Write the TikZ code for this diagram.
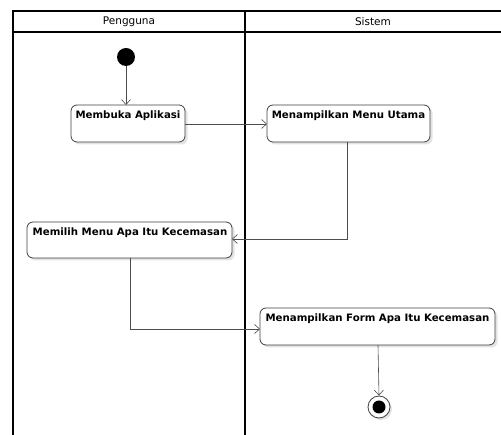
\documentclass[tikz,border=0pt]{standalone}
\usepackage{fontspec}
\setmainfont{DejaVu Sans}
\usetikzlibrary{arrows.meta,shadows}
\begin{document}
\begin{tikzpicture}[x=1pt,y=-1pt,
  lane/.style={draw=black,line width=1.1pt},
  act/.style={draw=black!75,line width=0.8pt,rounded corners=6pt,fill=white,
    drop shadow={shadow xshift=2.5pt,shadow yshift=-2.5pt,fill=black!18,opacity=0.6}},
  lbl/.style={anchor=north,font=\bfseries\fontsize{10.2}{11}\selectfont,inner sep=0pt},
  flow/.style={draw=black!70,line width=0.6pt,-{Straight Barb[length=5pt,width=9pt,line width=0.6pt]}},
  hdr/.style={font=\fontsize{10.5}{11}\selectfont,inner sep=0pt}]
\useasboundingbox (0,0) rectangle (501,435);
% swimlanes
\draw[lane] (13,440) -- (13,11) -- (505,11);
\draw[lane] (13,32) -- (505,32);
\draw[lane] (245,11) -- (245,440);
\node[hdr] (h1) at (129,21.5) {Pengguna};
\node[hdr] (h2) at (373,21.5) {Sistem};
% start
\node[circle,fill=black,minimum size=18pt,inner sep=0pt] (start) at (126,57) {};
% activities
\path[act] (71,105) rectangle (185,142);
\node[lbl] (a1) at (128,111) {Membuka Aplikasi};
\coordinate (a1n) at (126,105);
\coordinate (a1e) at (185,124);
\path[act] (267,105) rectangle (430,142);
\node[lbl] (a2) at (348.5,111) {Menampilkan Menu Utama};
\coordinate (a2w) at (267,124);
\coordinate (a2s) at (347,142);
\path[act] (27,222) rectangle (232,258);
\node[lbl] (a3) at (130,228) {Memilih Menu Apa Itu Kecemasan};
\coordinate (a3e) at (232,239);
\coordinate (a3s) at (130,258);
\path[act] (260,308) rectangle (495,345);
\node[lbl] (a4) at (377.5,314) {Menampilkan Form Apa Itu Kecemasan};
\coordinate (a4w) at (260,329);
\coordinate (a4s) at (378,345);
% end
\node[circle,draw=black!75,line width=0.8pt,fill=white,minimum size=22pt,inner sep=0pt,
  drop shadow={shadow xshift=2pt,shadow yshift=-2pt,fill=black!18,opacity=0.6}] (end) at (379,407) {};
\node[circle,fill=black,minimum size=13pt,inner sep=0pt] (endin) at (end) {};
% flows
\draw[flow] (start) -- (a1n);
\draw[flow] (a1e) -- (a2w);
\draw[flow] (a2s) |- (a3e);
\draw[flow] (a3s) |- (a4w);
\draw[flow] (a4s) -- (end.north);
\end{tikzpicture}
\end{document}
